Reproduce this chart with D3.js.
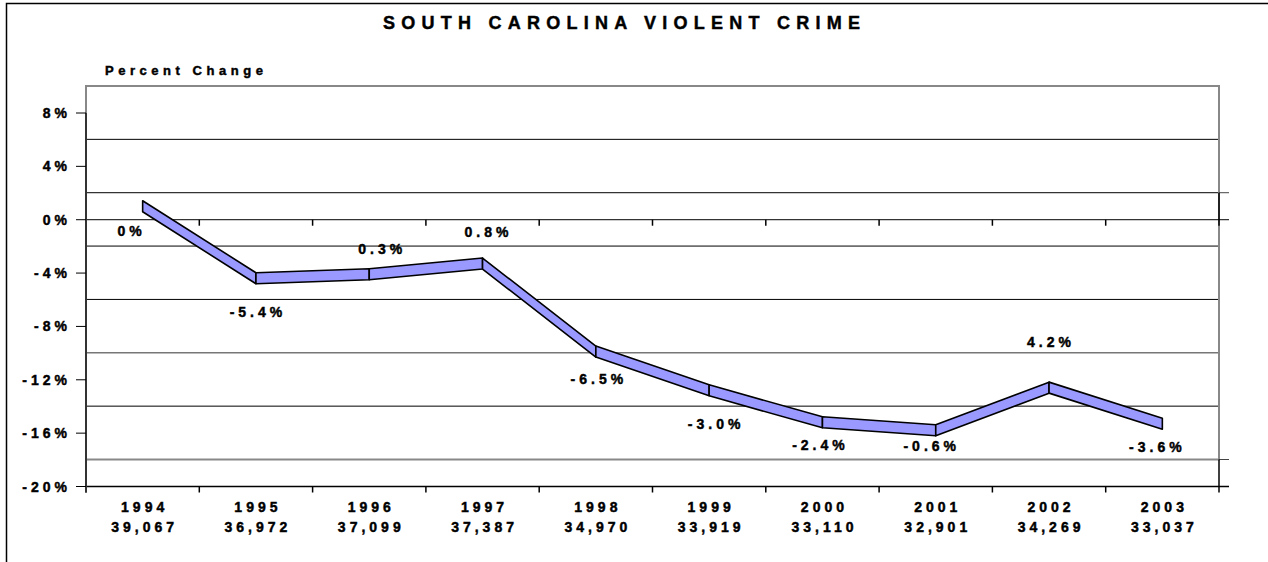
<!DOCTYPE html>
<html>
<head>
<meta charset="utf-8">
<script src="https://cdn.jsdelivr.net/npm/d3@7"></script>
<style>
  body { margin: 0; background: #fff; }
  text { font-family: "Liberation Sans", Arial, sans-serif; font-weight: bold; fill: #000; stroke: #000; stroke-width: 0.45px; }
</style>
</head>
<body>
<script>
// chart data
const years = ["1994", "1995", "1996", "1997", "1998", "1999", "2000", "2001", "2002", "2003"];
const offenses = ["39,067", "36,972", "37,099", "37,387", "34,970", "33,919", "33,110", "32,901", "34,269", "33,037"];
const yearChange = ["0%", "-5.4%", "0.3%", "0.8%", "-6.5%", "-3.0%", "-2.4%", "-0.6%", "4.2%", "-3.6%"];
// plotted line (percent change since 1994)
const cumulativeChange = [0, -5.4, -5.1, -4.3, -10.9, -13.8, -16.2, -16.8, -13.6, -16.3];
const yTicks = [8, 4, 0, -4, -8, -12, -16, -20];

// label nudges relative to the ribbon [dx, dy]
const labelNudge = [[-13, 30], [0, 39], [11, -20], [4, -27], [1, 32], [5, 39], [-4, 28], [-6, 21], [0, -41], [-7, 28]];

const width = 1268, height = 562;
const depth = 27;          // vertical shift from front plane to back wall
const spacing = 4;         // letter spacing of the small labels
const fs = "14px";

const svg = d3.select("body").append("svg")
    .attr("width", width)
    .attr("height", height);

const x = d3.scaleBand().domain(years).range([86, 1219]);
const y = d3.scaleLinear().domain([-20, 8]).range([486.5, 113]);
const back = v => y(v) - depth;

// outer frame
svg.append("rect")
    .attr("x", 6.5).attr("y", 3.5)
    .attr("width", 1400).attr("height", 700)
    .attr("fill", "none").attr("stroke", "#000").attr("stroke-width", 1.5);

// title
svg.append("text")
    .attr("x", 383).attr("y", 29)
    .attr("textLength", 477).attr("lengthAdjust", "spacing")
    .style("font-size", "18px")
    .text("SOUTH CAROLINA VIOLENT CRIME");

svg.append("text")
    .attr("x", 105).attr("y", 75)
    .attr("textLength", 158).attr("lengthAdjust", "spacing")
    .style("font-size", "13px")
    .text("Percent Change");

// back wall gridlines
const x0 = x.range()[0], x1 = x.range()[1];
svg.selectAll("line.grid")
    .data(yTicks.slice(1, -1))
    .enter().append("line")
    .attr("class", "grid")
    .attr("x1", x0).attr("x2", x1)
    .attr("y1", d => back(d)).attr("y2", d => back(d))
    .attr("stroke", d => d === -12 ? "#777" : "#000")
    .attr("stroke-width", d => d === -12 ? 1.5 : 1);

// back wall outline
svg.append("rect")
    .attr("x", x0).attr("y", back(8))
    .attr("width", x1 - x0).attr("height", back(-20) - back(8))
    .attr("fill", "none").attr("stroke", "#888").attr("stroke-width", 2);

// zero plane and floor (back edge, front edge, side)
[0, -20].forEach(v => {
    svg.append("line")
        .attr("x1", x1).attr("x2", x1 + 10)
        .attr("y1", back(v)).attr("y2", back(v))
        .attr("stroke", "#444");
    svg.append("line")
        .attr("x1", x0).attr("x2", x1 + 10)
        .attr("y1", y(v)).attr("y2", y(v))
        .attr("stroke", "#000").attr("stroke-width", v === 0 ? 1 : 1.5);
    svg.append("line")
        .attr("x1", x1).attr("x2", x1)
        .attr("y1", back(v)).attr("y2", y(v) + 6)
        .attr("stroke", "#000").attr("stroke-width", 1.5);
    svg.selectAll("line.tick" + (v === 0 ? "z" : "f"))
        .data(years)
        .enter().append("line")
        .attr("x1", d => x(d)).attr("x2", d => x(d))
        .attr("y1", y(v)).attr("y2", y(v) + 6)
        .attr("stroke", "#000").attr("stroke-width", 1.5);
});

// front value axis
svg.append("line")
    .attr("x1", x0).attr("x2", x0)
    .attr("y1", y(8)).attr("y2", y(-20) + 6)
    .attr("stroke", "#333").attr("stroke-width", 2);

svg.selectAll("line.ytick")
    .data(yTicks)
    .enter().append("line")
    .attr("x1", x0 - 10).attr("x2", x0)
    .attr("y1", d => y(d)).attr("y2", d => y(d))
    .attr("stroke", "#000");

svg.selectAll("text.ylab")
    .data(yTicks)
    .enter().append("text")
    .attr("class", "ylab")
    .attr("x", x0 - 19 + spacing)
    .attr("y", d => y(d) + 5)
    .attr("text-anchor", "end")
    .style("font-size", fs)
    .style("letter-spacing", spacing + "px")
    .text(d => d + "%");

// category labels
const xl = svg.selectAll("g.xlab")
    .data(years)
    .enter().append("g")
    .attr("transform", d => "translate(" + (x(d) + x.bandwidth() / 2 + spacing / 2) + ",0)");
xl.append("text")
    .attr("y", 512)
    .attr("text-anchor", "middle")
    .style("font-size", fs)
    .style("letter-spacing", spacing + "px")
    .text(d => d);
xl.append("text")
    .attr("y", 532)
    .attr("text-anchor", "middle")
    .style("font-size", fs)
    .style("letter-spacing", spacing + "px")
    .text((d, i) => offenses[i]);

// ribbon
const cx = i => x(years[i]) + x.bandwidth() / 2;
const frontEdge = v => y(v) - 8;
const backEdge = v => y(v) - 19;
const segs = d3.range(cumulativeChange.length - 1);
svg.selectAll("path.ribbon")
    .data(segs)
    .enter().append("path")
    .attr("class", "ribbon")
    .attr("d", i => {
        const a = cumulativeChange[i], b = cumulativeChange[i + 1];
        return "M" + cx(i) + "," + backEdge(a) +
            "L" + cx(i + 1) + "," + backEdge(b) +
            "L" + cx(i + 1) + "," + frontEdge(b) +
            "L" + cx(i) + "," + frontEdge(a) + "Z";
    })
    .attr("fill", "#9999ff")
    .attr("stroke", "#000")
    .attr("stroke-width", 1.6)
    .attr("stroke-linejoin", "round");

// data labels
svg.selectAll("text.dlab")
    .data(yearChange)
    .enter().append("text")
    .attr("class", "dlab")
    .attr("x", (d, i) => cx(i) + labelNudge[i][0] + spacing / 2)
    .attr("y", (d, i) => y(cumulativeChange[i]) - 13.5 + labelNudge[i][1])
    .attr("text-anchor", "middle")
    .style("font-size", fs)
    .style("letter-spacing", spacing + "px")
    .text(d => d);
</script>
</body>
</html>
